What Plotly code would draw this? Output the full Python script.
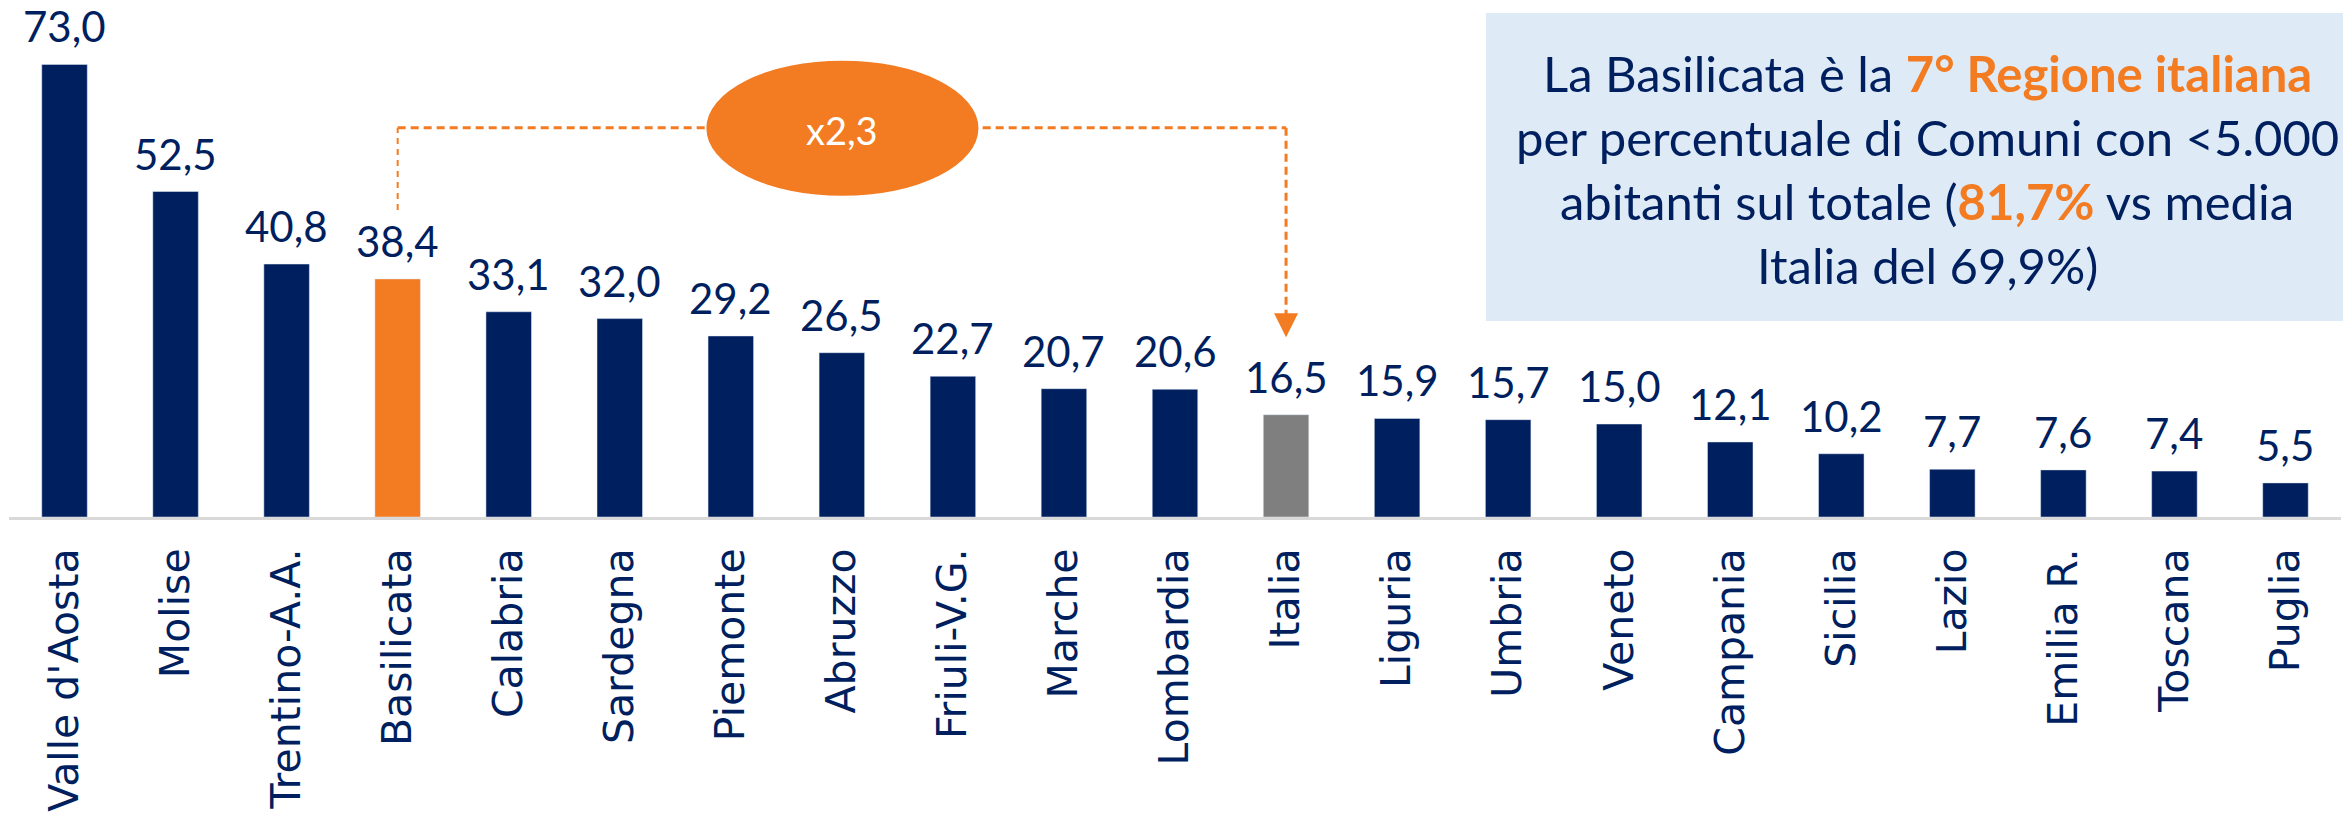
import plotly.graph_objects as go

regioni = ["Valle d'Aosta", "Molise", "Trentino-A.A.", "Basilicata", "Calabria", "Sardegna",
           "Piemonte", "Abruzzo", "Friuli-V.G.", "Marche", "Lombardia", "Italia", "Liguria",
           "Umbria", "Veneto", "Campania", "Sicilia", "Lazio", "Emilia R.", "Toscana", "Puglia"]
valori = [73.0, 52.5, 40.8, 38.4, 33.1, 32.0, 29.2, 26.5, 22.7, 20.7, 20.6, 16.5, 15.9,
          15.7, 15.0, 12.1, 10.2, 7.7, 7.6, 7.4, 5.5]

righe_box = [
    "La Basilicata è la <b><span style='color:#F37B21'>7° Regione italiana</span></b>",
    "per percentuale di Comuni con &lt;5.000",
    "abitanti sul totale (<b><span style='color:#F37B21'>81,7%</span></b> vs media",
    "Italia del 69,9%)",
]

NAVY = "#001F5F"
ORANGE = "#F37B21"
GREY = "#7F7F7F"

colori = []
for r in regioni:
    if r == "Basilicata":
        colori.append(ORANGE)
    elif r == "Italia":
        colori.append(GREY)
    else:
        colori.append(NAVY)

fig = go.Figure(go.Bar(x=regioni, y=valori, marker_color=colori, width=0.41))

# etichette dei valori sopra le barre
for r, v in zip(regioni, valori):
    fig.add_annotation(x=r, y=v, text=f"{v:.1f}".replace(".", ","), showarrow=False,
                       yanchor="bottom", yshift=11,
                       font=dict(family="Lato", size=42, color=NAVY))

# connettore tratteggiato Basilicata -> Italia
fig.add_shape(type="line", x0=3, x1=3, y0=49.5, y1=62.8,
              line=dict(color=ORANGE, width=2, dash="6px,5px"))
fig.add_shape(type="line", x0=3, x1=11, y0=62.8, y1=62.8,
              line=dict(color=ORANGE, width=3, dash="8px,5px"))
fig.add_shape(type="line", x0=11, x1=11, y0=62.8, y1=31,
              line=dict(color=ORANGE, width=3, dash="8px,5px"))
fig.add_annotation(x=11, y=29, ax=11, ay=31.5, xref="x", yref="y", axref="x", ayref="y",
                   showarrow=True, arrowhead=2, arrowsize=1.6, arrowwidth=3,
                   arrowcolor=ORANGE, text="")
fig.add_shape(type="circle", x0=5.78, x1=8.23, y0=51.8, y1=73.6,
              fillcolor=ORANGE, line=dict(width=0), layer="above")
fig.add_annotation(x=7.0, y=62.5, text="x2,3", showarrow=False,
                   font=dict(family="Lato", size=38, color="white"))

# riquadro di testo (posizioni in pixel relative all'area del grafico)
H = 496
W = 2332
fig.add_shape(type="rect", xref="paper", yref="paper",
              x0=(1486 - 9) / W, x1=(2349 - 9) / W,
              y0=(517 - 321) / H, y1=(517 - 13) / H,
              fillcolor="#DEEAF6", line=dict(width=0), layer="below")
for i, riga in enumerate(righe_box):
    fig.add_annotation(xref="paper", yref="paper", xanchor="center", yanchor="middle",
                       x=(1927 - 9) / W, y=(517 - (73 + 64 * i)) / H,
                       showarrow=False, text=riga,
                       font=dict(family="Lato", size=49, color=NAVY))

# la pagina ha un margine di 8px: si compensa spostando l'area del grafico
fig.update_layout(
    width=2351, height=819,
    margin=dict(l=1, r=18, t=13, b=310),
    plot_bgcolor="white", paper_bgcolor="white",
    showlegend=False,
)
fig.update_xaxes(tickangle=-90, tickfont=dict(family="DejaVu Sans", size=41, color=NAVY),
                 showline=True, linecolor="#D9D9D9", linewidth=3, ticks="",
                 ticklabelstandoff=12, showgrid=False)
fig.update_yaxes(range=[0, 80], visible=False, showgrid=False)

fig.write_html("out.html")
